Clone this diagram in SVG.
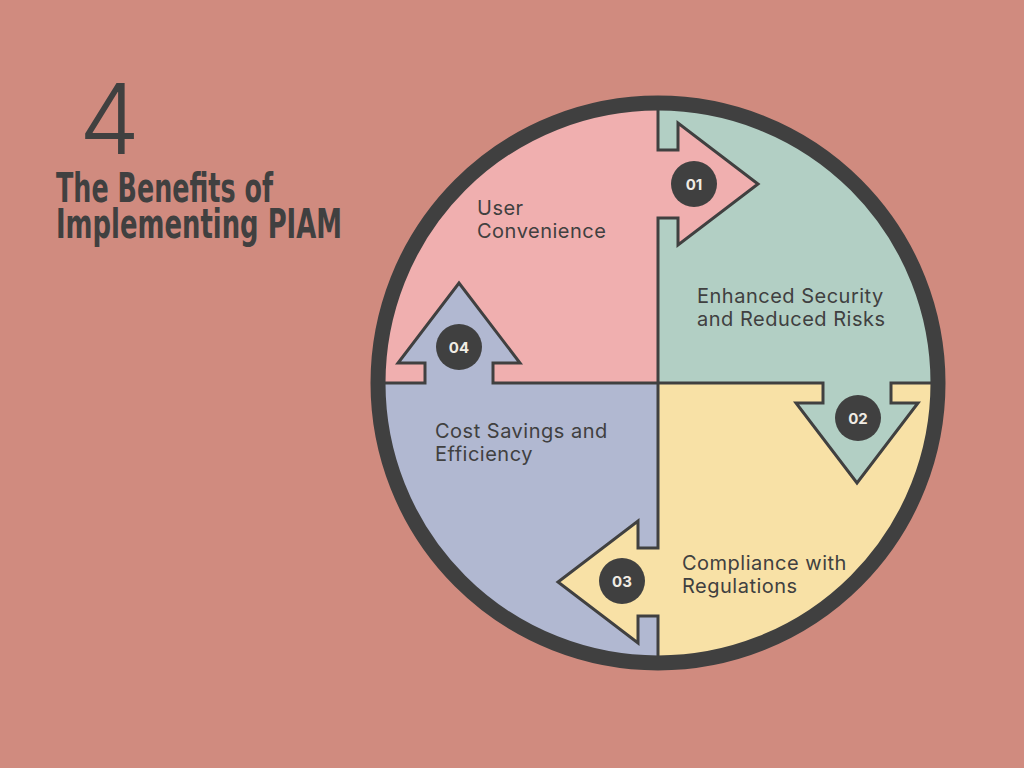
<svg xmlns="http://www.w3.org/2000/svg" width="1024" height="768" viewBox="0 0 1024 768">
<style>
.lbl{font-family:Inter,"Liberation Sans",sans-serif;font-size:20px;letter-spacing:0.5px;fill:#404040}
.num{font-family:Inter,"Liberation Sans",sans-serif;font-size:15px;font-weight:bold;fill:#f0ece4;text-anchor:middle}
.badge{fill:#404040}
.div{fill:none;stroke:#404040;stroke-width:3;stroke-linejoin:miter}
.ttl{font-family:"DejaVu Sans Condensed","Liberation Sans Narrow",sans-serif;font-weight:bold;font-size:40px;fill:#404040}
</style>
<defs>
<clipPath id="cc"><circle cx="658" cy="383" r="281"/></clipPath>
</defs>
<rect width="1024" height="768" fill="#D08B7F"/>
<g id="title">
<text x="79" y="154" font-family="Inter,'Liberation Sans',sans-serif" font-weight="350" font-size="97" fill="#404040">4</text>
<text class="ttl" x="56" y="202" textLength="217" lengthAdjust="spacingAndGlyphs">The Benefits of</text>
<text class="ttl" x="56" y="238" textLength="286" lengthAdjust="spacingAndGlyphs">Implementing PIAM</text>
</g>
<g clip-path="url(#cc)">
<polygon id="q1" fill="#F0AFAF" points="360,70 658,70 658,150 678,150 678,123 758,184 678,245 678,218 658,218 658,383 493,383 493,363 520,363 459,283 398,363 425,363 425,383 360,383"/>
<polygon id="q2" fill="#B2CFC4" points="658,70 658,150 678,150 678,123 758,184 678,245 678,218 658,218 658,383 823,383 823,403 796,403 857,483 918,403 891,403 891,383 960,383 960,70"/>
<polygon id="q3" fill="#F8E1A6" points="658,383 823,383 823,403 796,403 857,483 918,403 891,403 891,383 960,383 960,700 658,700 658,616 638,616 638,643 558,582 638,521 638,548 658,548"/>
<polygon id="q4" fill="#B1B8D1" points="658,383 658,548 638,548 638,521 558,582 638,643 638,616 658,616 658,700 360,700 360,383 425,383 425,363 398,363 459,283 520,363 493,363 493,383"/>
<g id="connectors">
<polyline class="div" points="658,70 658,150 678,150 678,123 758,184 678,245 678,218 658,218 658,383"/>
<polyline class="div" points="658,383 823,383 823,403 796,403 857,483 918,403 891,403 891,383 960,383"/>
<polyline class="div" points="658,383 658,548 638,548 638,521 558,582 638,643 638,616 658,616 658,700"/>
<polyline class="div" points="658,383 493,383 493,363 520,363 459,283 398,363 425,363 425,383 360,383"/>
</g>
</g>
<circle id="ring" cx="658" cy="383" r="280" fill="none" stroke="#404040" stroke-width="15"/>
<g id="n1">
<text class="lbl" x="477" y="215">User</text>
<text class="lbl" x="477" y="238">Convenience</text>
<circle class="badge" cx="694" cy="184" r="23"/>
<text class="num" x="694" y="189.5">01</text>
</g>
<g id="n2">
<text class="lbl" x="697" y="303">Enhanced Security</text>
<text class="lbl" x="697" y="326">and Reduced Risks</text>
<circle class="badge" cx="858" cy="418" r="23"/>
<text class="num" x="858" y="423.5">02</text>
</g>
<g id="n3">
<text class="lbl" x="682" y="570">Compliance with</text>
<text class="lbl" x="682" y="593">Regulations</text>
<circle class="badge" cx="622" cy="581" r="23"/>
<text class="num" x="622" y="586.5">03</text>
</g>
<g id="n4">
<text class="lbl" x="435" y="438">Cost Savings and</text>
<text class="lbl" x="435" y="461">Efficiency</text>
<circle class="badge" cx="459" cy="347" r="23"/>
<text class="num" x="459" y="352.5">04</text>
</g>
</svg>
